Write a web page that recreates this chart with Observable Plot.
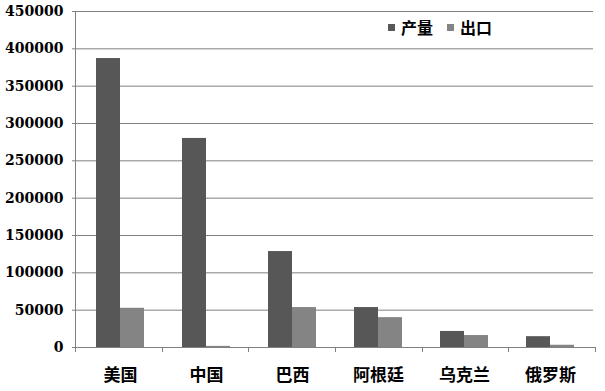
<!DOCTYPE html>
<html><head><meta charset="utf-8">
<script src="https://cdn.jsdelivr.net/npm/d3@7"></script>
<script src="https://cdn.jsdelivr.net/npm/@observablehq/plot@0.6"></script>
<style>
body{margin:0;background:#fff;}
#wrap{position:relative;width:605px;height:391px;}
#legend{position:absolute;left:388px;top:15px;font-family:"Noto Sans CJK SC";font-weight:bold;font-size:16px;display:flex;align-items:center;color:#000;}
#legend span.sw{display:inline-block;width:7px;height:7px;margin-right:6px;}
#legend span.lb{margin-right:14px;}
</style></head>
<body><div id="wrap"><div id="legend"></div></div>
<script>
const countries = ["美国","中国","巴西","阿根廷","乌克兰","俄罗斯"];
const series = ["产量","出口"];
const production = [387000, 280000, 128500, 53500, 21500, 14500];
const exportsVals = [52500, 1500, 53500, 40000, 16000, 3000];
const yTicks = [0,50000,100000,150000,200000,250000,300000,350000,400000,450000];
const colors = ["#575757","#848484"];

const data = countries.flatMap((c,i)=>[
  {country:c, series:series[0], value:production[i]},
  {country:c, series:series[1], value:exportsVals[i]}
]);

const W=605,H=391,ML=75,MR=10,MT=11,MB=44;
const chart = Plot.plot({
  width:W, height:H, marginLeft:ML, marginRight:MR, marginTop:MT, marginBottom:MB,
  style:{background:"#fff", overflow:"visible"},
  fx:{domain:countries, padding:0, label:null},
  x:{domain:series, paddingInner:0, paddingOuter:0.734, axis:null},
  y:{domain:[0,450000], label:null},
  color:{domain:series, range:colors},
  marks:[
    Plot.gridY(yTicks, {stroke:"#808080", strokeOpacity:1, strokeWidth:1}),
    Plot.barY(data, {fx:"country", x:"series", y:"value", fill:"series"}),
    Plot.axisY(yTicks, {tickSize:5, tickPadding:9, stroke:"#808080", tickFormat:d=>String(d),
      fontFamily:"DejaVu Serif", fontWeight:"bold", fontSize:14, fill:"#000", label:null}),
    Plot.axisFx({anchor:"bottom", tickSize:0, tickPadding:21, fontFamily:"Noto Sans CJK SC",
      fontWeight:"bold", fontSize:17, fill:"#000", label:null})
  ]
});
document.getElementById("wrap").prepend(chart);

// axis lines and category boundary ticks
const svg = d3.select(chart);
const n = countries.length, x0 = ML, x1 = W-MR, step=(x1-x0)/n, yb = H-MB;
const g = svg.append("g").attr("stroke","#808080").attr("stroke-width",1);
g.append("line").attr("x1",x0+0.5).attr("x2",x0+0.5).attr("y1",MT).attr("y2",yb);
g.append("line").attr("x1",x0).attr("x2",x1).attr("y1",yb+0.5).attr("y2",yb+0.5);
d3.range(n+1).forEach(i=>{
  const xx=Math.round(x0+i*step)+0.5;
  g.append("line").attr("x1",xx).attr("x2",xx).attr("y1",yb).attr("y2",yb+5);
});

const lg = document.getElementById("legend");
series.forEach((s,i)=>{
  const sw=document.createElement("span"); sw.className="sw"; sw.style.background=colors[i];
  const lb=document.createElement("span"); lb.className="lb"; lb.textContent=s;
  lg.append(sw, lb);
});
</script></body></html>
